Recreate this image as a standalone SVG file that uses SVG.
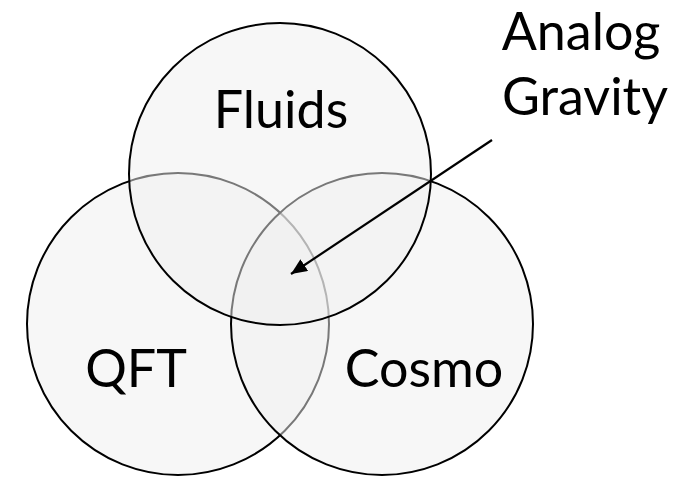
<svg xmlns="http://www.w3.org/2000/svg" width="678" height="479" viewBox="0 0 678 479">
  <style>
    .set { fill: #efefef; fill-opacity: 0.5; stroke: #000; stroke-width: 2; }
    .lbl { font-family: Lato, "Noto Sans", sans-serif; font-size: 52px; fill: #000; text-anchor: middle; }
    .conn { stroke: #000; stroke-width: 2.2; fill: none; }
  </style>
  <defs>
    <marker id="arrow" markerUnits="userSpaceOnUse" markerWidth="18" markerHeight="16" refX="16" refY="7" orient="auto">
      <path d="M0,0 L16,7 L0,14 Z" fill="#000"/>
    </marker>
  </defs>
  <rect width="678" height="479" fill="#fff"/>
  <g id="qft">
    <circle class="set" cx="178" cy="324" r="151"/>
    <text class="lbl" x="136" y="387">QFT</text>
  </g>
  <g id="cosmo">
    <circle class="set" cx="382" cy="324" r="151"/>
    <text class="lbl" x="424" y="387">Cosmo</text>
  </g>
  <g id="fluids">
    <circle class="set" cx="280" cy="174" r="151"/>
    <text class="lbl" x="281" y="128">Fluids</text>
  </g>
  <g id="analog-gravity">
    <text class="lbl" x="581" y="50">Analog</text>
    <text class="lbl" x="585" y="115">Gravity</text>
  </g>
  <g id="connectors">
    <line class="conn" x1="492" y1="140" x2="291" y2="274" marker-end="url(#arrow)"/>
  </g>
</svg>
